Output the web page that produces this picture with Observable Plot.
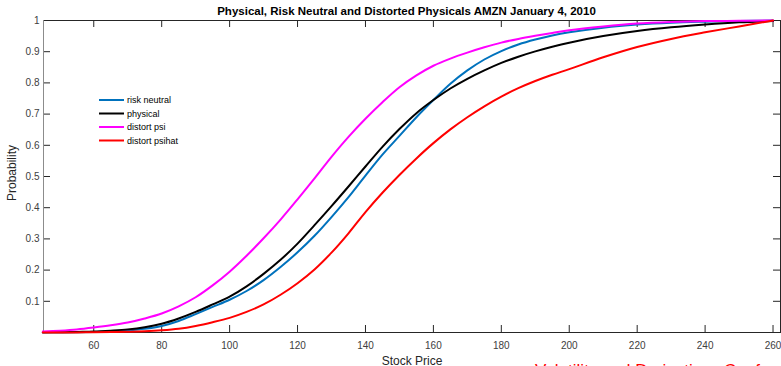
<!DOCTYPE html>
<html><head><meta charset="utf-8">
<script src="https://cdn.jsdelivr.net/npm/d3@7"></script>
<script src="https://cdn.jsdelivr.net/npm/@observablehq/plot@0.6"></script>
<style>body{margin:0;background:#fff} svg{display:block}</style>
</head><body><div id="chart"></div>
<script>
const price = [45,50,55,60,65,70,75,80,85,90,95,100,105,110,115,120,125,130,135,140,145,150,155,160,165,170,175,180,185,190,195,200,210,220,230,240,250,260];
const riskNeutral = [0.0003,0.0006,0.001,0.002,0.004,0.007,0.012,0.021,0.037,0.059,0.082,0.105,0.133,0.168,0.21,0.257,0.31,0.37,0.434,0.503,0.57,0.63,0.69,0.745,0.797,0.84,0.875,0.902,0.923,0.939,0.952,0.962,0.977,0.987,0.993,0.996,0.998,1.0];
const physical = [0.0005,0.001,0.002,0.003,0.006,0.01,0.017,0.028,0.045,0.066,0.09,0.115,0.148,0.188,0.233,0.285,0.344,0.405,0.468,0.532,0.595,0.652,0.703,0.745,0.782,0.813,0.84,0.864,0.884,0.901,0.916,0.929,0.95,0.966,0.978,0.987,0.994,0.998];
const distortPsi = [0.003,0.006,0.01,0.016,0.023,0.032,0.045,0.061,0.084,0.113,0.151,0.195,0.246,0.302,0.362,0.427,0.494,0.563,0.627,0.685,0.738,0.786,0.824,0.855,0.878,0.897,0.914,0.929,0.941,0.951,0.96,0.969,0.981,0.99,0.995,0.998,0.999,1.0];
const distortPsihat = [0.0001,0.0002,0.0004,0.001,0.0015,0.0025,0.004,0.007,0.012,0.021,0.033,0.047,0.066,0.09,0.121,0.158,0.202,0.256,0.318,0.386,0.448,0.505,0.558,0.607,0.651,0.69,0.725,0.756,0.783,0.806,0.826,0.844,0.882,0.915,0.941,0.962,0.981,1.0];
const seriesNames = ["risk neutral","physical","distort psi","distort psihat"];
const seriesColors = ["#0072BD","#000000","#FF00FF","#FF0000"];
const xTicks = [60,80,100,120,140,160,180,200,220,240,260];
const yTicks = [0.1,0.2,0.3,0.4,0.5,0.6,0.7,0.8,0.9,1];
const titleText = "Physical, Risk Neutral and Distorted Physicals AMZN January 4, 2010";
const xLabel = "Stock Price";
const yLabel = "Probability";
const footText = "Volatility and Derivatives Conference";

const seriesValues = [riskNeutral, physical, distortPsi, distortPsihat];
const rows = [];
seriesValues.forEach((vals, i) => vals.forEach((v, j) => rows.push({series: seriesNames[i], price: price[j], p: v})));

const W = 781, H = 366, mL = 43, mR = 1, mT = 20, mB = 34;
const pw = W - mL - mR, ph = H - mT - mB;
const xDomain = [45.2, 262.2];
const tickColor = "#262626";
const font = "Liberation Sans, Arial, sans-serif";

const chart = Plot.plot({
  width: W, height: H,
  marginLeft: mL, marginRight: mR, marginTop: mT, marginBottom: mB,
  style: {fontFamily: font, background: "#fff"},
  x: {domain: xDomain},
  y: {domain: [0, 1]},
  color: {domain: seriesNames, range: seriesColors},
  marks: [
    Plot.axisX({ticks: xTicks, tickSize: 0, tickPadding: 9, fontSize: 10, color: "#404040", label: null}),
    Plot.axisY({ticks: yTicks, tickSize: 0, tickPadding: 4, fontSize: 10, color: "#404040", label: null, tickFormat: d => String(d)}),
    Plot.tickX(xTicks, {x: d => d, insetTop: ph - 7, stroke: tickColor}),
    Plot.tickX(xTicks, {x: d => d, insetBottom: ph - 7, stroke: tickColor}),
    Plot.tickY(yTicks, {y: d => d, insetRight: pw - 7, stroke: tickColor}),
    Plot.tickY(yTicks, {y: d => d, insetLeft: pw - 7, stroke: tickColor}),
    Plot.frame({stroke: tickColor}),
    Plot.ruleX([xDomain[0]], {stroke: "#8c8c8c"}),
    Plot.line(rows, {x: "price", y: "p", z: "series", stroke: "series", strokeWidth: 2, curve: "catmull-rom"})
  ]
});

const svg = d3.select(chart);
const addText = (x, y, txt, opts = {}) => {
  const t = svg.append("text").attr("x", x).attr("y", y)
    .attr("text-anchor", opts.anchor || "start")
    .attr("font-family", font).attr("font-size", opts.size || 10)
    .attr("font-weight", opts.weight || "normal")
    .attr("fill", opts.fill || "#000").text(txt);
  if (opts.transform) t.attr("transform", opts.transform);
  return t;
};
addText(406.5, 15, titleText, {anchor: "middle", weight: "bold", size: 11.5});
addText(412, 364.5, xLabel, {anchor: "middle", size: 12, fill: "#262626"});
addText(0, 0, yLabel, {anchor: "middle", size: 12, fill: "#262626", transform: "translate(16,173) rotate(-90)"});
addText(535, 376, footText, {size: 17, fill: "#FF0000"});

seriesNames.forEach((n, i) => {
  const y = 100 + i * 13.5;
  svg.append("line").attr("x1", 99).attr("x2", 124).attr("y1", y).attr("y2", y).attr("stroke", seriesColors[i]).attr("stroke-width", 2);
  addText(127, y + 3.2, n, {size: 9});
});
document.getElementById("chart").appendChild(chart);
</script>
</body></html>
